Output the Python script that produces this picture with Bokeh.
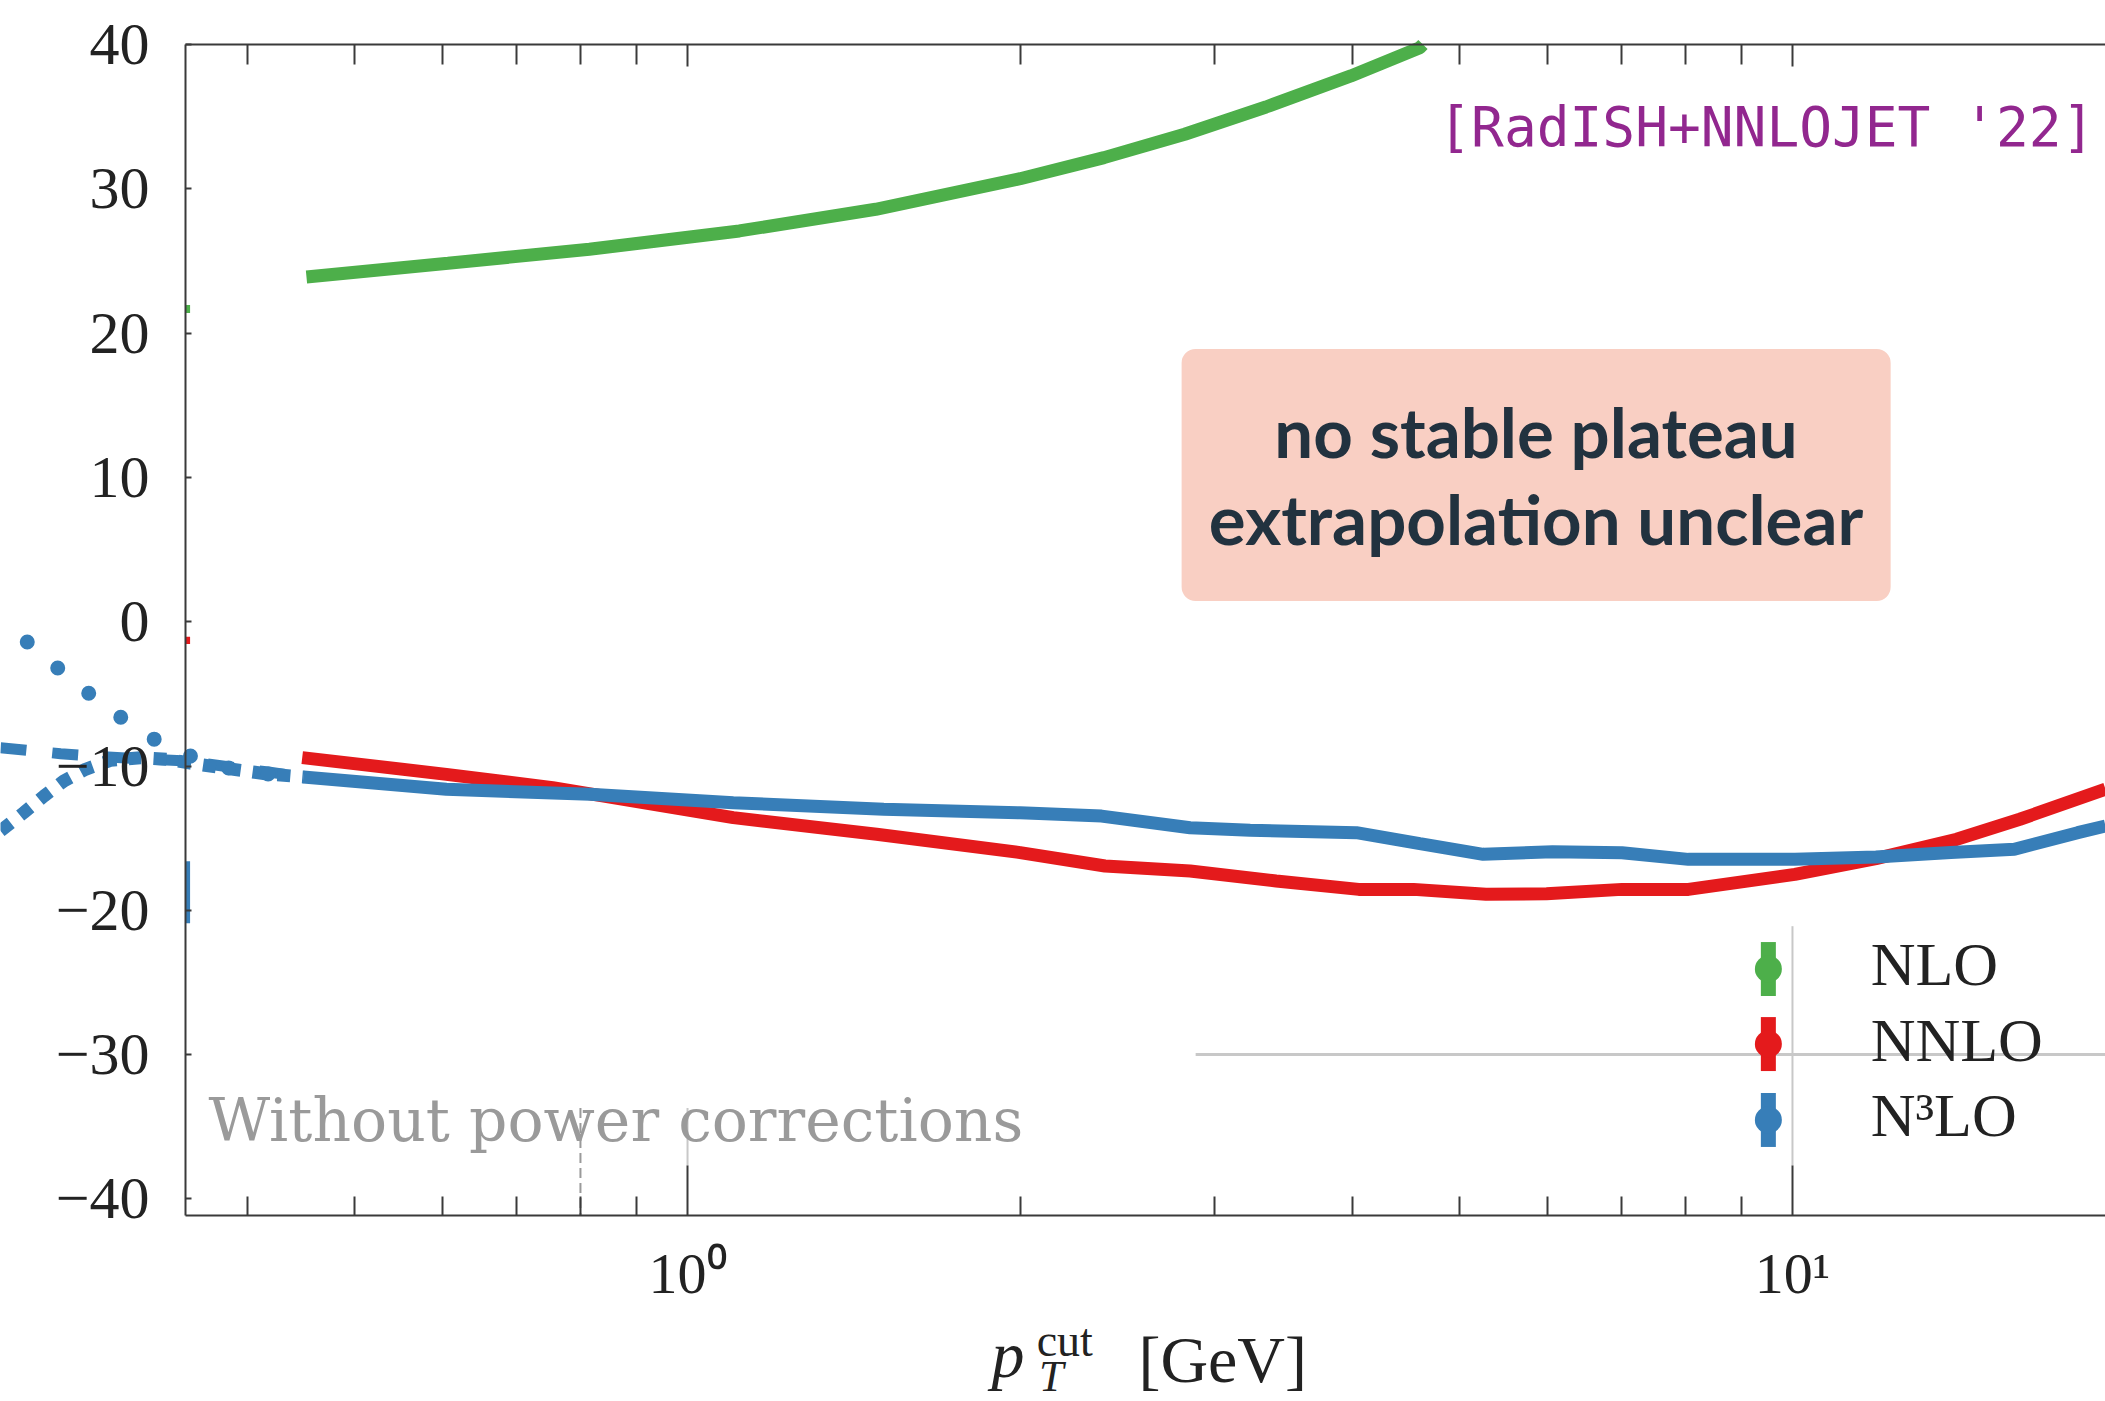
from bokeh.plotting import figure
from bokeh.models import Range1d, FixedTicker, LogAxis
from bokeh.core.properties import value
from bokeh.embed import file_html
from bokeh.resources import INLINE

# ---------------- data ----------------
nlo_x = [0.452, 0.607, 0.815, 1.114, 1.48, 2.0, 2.382, 2.818, 3.338, 3.984, 4.60, 4.63]
nlo_y = [23.89, 24.84, 25.81, 27.08, 28.58, 30.7, 32.16, 33.78, 35.67, 37.82, 39.78, 40.0]

nnlo_x = [0.448, 0.605, 0.755, 1.10, 1.483, 2.0, 2.387, 2.85, 3.41, 4.05, 4.54,
          5.28, 5.99, 7.01, 8.05, 10.05, 11.9, 14.08, 16.06, 19.2]
nnlo_y = [-9.42, -10.58, -11.50, -13.58, -14.73, -16.0, -16.93, -17.28, -17.97, -18.55, -18.55,
          -18.89, -18.85, -18.55, -18.55, -17.51, -16.42, -15.08, -13.69, -11.61]

n3lo_x = [0.449, 0.605, 0.816, 1.10, 1.505, 2.0, 2.37, 2.85, 3.23, 4.03, 4.60, 5.25,
          6.065, 7.01, 8.05, 10.05, 11.9, 13.91, 15.88, 18.12, 19.2]
n3lo_y = [-10.76, -11.61, -11.96, -12.54, -13.0, -13.24, -13.47, -14.28, -14.45, -14.62, -15.38, -16.12,
          -15.94, -16.01, -16.47, -16.47, -16.31, -16.0, -15.77, -14.62, -14.16]

# N3LO variants below the plotted range (dotted / dashed / square-dotted)
n3lo_dot_x = [0.2526, 0.2692, 0.2870, 0.3067, 0.3289, 0.3549, 0.3842, 0.4175, 0.4494]
n3lo_dot_y = [-1.41, -3.21, -4.95, -6.60, -8.13, -9.31, -10.14, -10.56, -10.76]
n3lo_dash_x = [0.2389, 0.2708, 0.2943, 0.3505, 0.3855, 0.4175, 0.4494]
n3lo_dash_y = [-8.73, -9.15, -9.35, -9.65, -10.07, -10.42, -10.76]
n3lo_sq_x = [0.2389, 0.2507, 0.2616, 0.2726, 0.2852, 0.3004, 0.3198, 0.3380, 0.3549, 0.3855, 0.4175, 0.4494]
n3lo_sq_y = [-14.5, -13.24, -12.08, -11.04, -10.23, -9.61, -9.43, -9.54, -9.80, -10.20, -10.56, -10.76]

# error bars visible at the left frame edge
edge_lo = [21.4, -1.55, -20.9]
edge_hi = [21.95, -1.05, -16.6]

series_names = ["NLO", "NNLO", "N³LO"]
series_colors = ["#4daf4a", "#e41a1c", "#377eb8"]

y_ticks = [-40, -30, -20, -10, 0, 10, 20, 30, 40]
x_major = [1, 10]
x_minor = [0.4, 0.5, 0.6, 0.7, 0.8, 0.9, 2, 3, 4, 5, 6, 7, 8, 9]
x_labels = {1: "10⁰", 10: "10¹"}

# ---------------- figure ----------------
PX = 14.43                 # screen pixels per y unit
X0, X1 = 0.2389, 19.2      # visible x extent (whole canvas)
Y_TOP, Y_BOT = 40.0, -41.15  # plot box (top / bottom spines)
Y0 = Y_BOT - 186 / PX      # canvas bottom
Y1 = Y_TOP + 44 / PX       # canvas top
XAX = 0.3513               # left spine
AXC = "#3a3a3a"
SERIF = "Liberation Serif"


def base(v, fs, k=0.38):
    # shift a text baseline so that the glyph sits on the wanted value
    return v + k * fs / PX


p = figure(width=2105, height=1401, x_axis_type="log",
           x_range=Range1d(X0, X1), y_range=Range1d(Y0, Y1),
           output_backend="svg", toolbar_location=None,
           min_border_left=0, min_border_right=0, min_border_top=0, min_border_bottom=0)
p.outline_line_color = None
p.grid.visible = False
p.background_fill_color = "white"
p.border_fill_color = "white"

# left axis at the plot box's left spine
ya = p.yaxis[0]
ya.fixed_location = XAX
ya.bounds = (Y_BOT, Y_TOP)
ya.ticker = FixedTicker(ticks=y_ticks, minor_ticks=[])
ya.major_label_overrides = {t: (f"−{abs(t)}" if t < 0 else str(t)) for t in y_ticks}
ya.major_tick_in = 6
ya.major_tick_out = 0
ya.minor_tick_in = 0
ya.minor_tick_out = 0
ya.axis_line_color = AXC
ya.axis_line_width = 2
ya.major_tick_line_color = AXC
ya.major_tick_line_width = 2
ya.major_label_text_font = SERIF
ya.major_label_text_font_size = "60px"
ya.major_label_text_color = "#222222"
ya.major_label_standoff = 36

# bottom axis at the plot box's bottom spine
xa = p.xaxis[0]
xa.fixed_location = Y_BOT
xa.ticker = FixedTicker(ticks=x_major, minor_ticks=x_minor)
xa.bounds = (XAX, 30)
xa.major_label_overrides = x_labels
xa.major_tick_in = 50
xa.major_tick_out = 0
xa.minor_tick_in = 19
xa.minor_tick_out = 0
xa.axis_line_color = AXC
xa.axis_line_width = 2
xa.major_tick_line_color = AXC
xa.minor_tick_line_color = AXC
xa.major_tick_line_width = 2
xa.minor_tick_line_width = 2
xa.major_label_text_font = SERIF
xa.major_label_text_font_size = "58px"
xa.major_label_text_color = "#222222"
xa.major_label_standoff = 26

# top axis (ticks only)
top = LogAxis(ticker=FixedTicker(ticks=x_major, minor_ticks=x_minor), bounds=(XAX, 30),
              fixed_location=Y_TOP, major_label_overrides={1: "", 10: ""},
              major_label_text_font_size="10px", major_label_text_alpha=0,
              major_tick_in=22, major_tick_out=0, minor_tick_in=20, minor_tick_out=0,
              axis_line_color=AXC, axis_line_width=2,
              major_tick_line_color=AXC, minor_tick_line_color=AXC,
              major_tick_line_width=2, minor_tick_line_width=2)
p.add_layout(top, "above")

# light guide lines seen in the picture
p.segment(x0=[2.883], y0=[-30], x1=[30], y1=[-30], line_color="#c8c8c8", line_width=3)
p.segment(x0=[10, 1], y0=[-21.1, -33.7], x1=[10, 1], y1=[-37.7, -37.7], line_color="#c8c8c8", line_width=2)
p.segment(x0=[0.80], y0=[-33.7], x1=[0.80], y1=[Y_BOT], line_color="#9a9a9a", line_width=2, line_dash="10 5")

# annotation box
p.quad(left=[2.80], right=[12.27], top=[18.9], bottom=[1.43], fill_color="#f9cfc3",
       line_color=None, border_radius=14)
p.text(x=[5.86, 5.86], y=[base(11.35, 69), base(5.32, 69)],
       text=["no stable plateau", "extrapolation unclear"],
       text_font=value("Lato"), text_font_style="bold", text_font_size="69px",
       text_color="#22323f", text_align="center", text_baseline="alphabetic")

# curves
LW = 13
p.line(n3lo_dash_x, n3lo_dash_y, line_color=series_colors[2], line_width=11, line_dash="26 26")
p.line(n3lo_sq_x, n3lo_sq_y, line_color=series_colors[2], line_width=13, line_dash="13 12")
p.line(n3lo_dot_x, n3lo_dot_y, line_color=series_colors[2], line_width=15, line_dash="0 40",
       line_cap="round")
p.line(nlo_x, nlo_y, line_color=series_colors[0], line_width=LW)
p.line(nnlo_x, nnlo_y, line_color=series_colors[1], line_width=LW)
p.line(n3lo_x, n3lo_y, line_color=series_colors[2], line_width=LW)

# error bars at the left spine
p.segment(x0=[0.3528] * 3, y0=edge_lo, x1=[0.3528] * 3, y1=edge_hi, line_color=series_colors,
          line_width=5)

# texts
p.text(x=[4.78], y=[base(32.83, 55)], text=["[RadISH+NNLOJET '22]"],
       text_font=value("DejaVu Sans Mono"), text_font_size="54.5px", text_color="#92278f",
       text_align="left", text_baseline="alphabetic")
p.text(x=[0.3685], y=[base(-36.13, 60)], text=["Without power corrections"],
       text_font=value("DejaVu Serif"), text_font_size="60px", text_color="#9a9a9a",
       text_align="left", text_baseline="alphabetic")

# legend (error-bar markers)
leg_mx = 9.51
leg_my = [-24.07, -29.27, -34.53]
leg_half = 1.87
p.segment(x0=[leg_mx] * 3, y0=[v - leg_half for v in leg_my], x1=[leg_mx] * 3,
          y1=[v + leg_half for v in leg_my], line_color=series_colors, line_width=15)
p.scatter(x=[leg_mx] * 3, y=leg_my, size=27, marker="circle", fill_color=series_colors,
          line_color=None)
p.text(x=[11.77] * 3, y=[base(v, 62) for v in [-25.38, -30.6, -35.85]], text=series_names,
       text_font=value(SERIF), text_font_size="62px", text_color="#222222",
       text_align="left", text_baseline="alphabetic")

# x-axis title  p_T^cut [GeV]
p.text(x=[1.884], y=[base(-52.5, 66)], text=["p"], text_font=value(SERIF), text_font_style="italic",
       text_font_size="66px", text_color="#222222", text_align="left", text_baseline="alphabetic")
p.text(x=[2.07], y=[base(-51.0, 46)], text=["cut"], text_font=value(SERIF),
       text_font_size="46px", text_color="#222222", text_align="left", text_baseline="alphabetic")
p.text(x=[2.08], y=[base(-53.5, 44)], text=["T"], text_font=value(SERIF), text_font_style="italic",
       text_font_size="44px", text_color="#222222", text_align="left", text_baseline="alphabetic")
p.text(x=[2.559], y=[base(-52.9, 66)], text=["[GeV]"], text_font=value(SERIF),
       text_font_size="66px", text_color="#222222", text_align="left", text_baseline="alphabetic")

open("out.html", "w").write(file_html(p, INLINE))
